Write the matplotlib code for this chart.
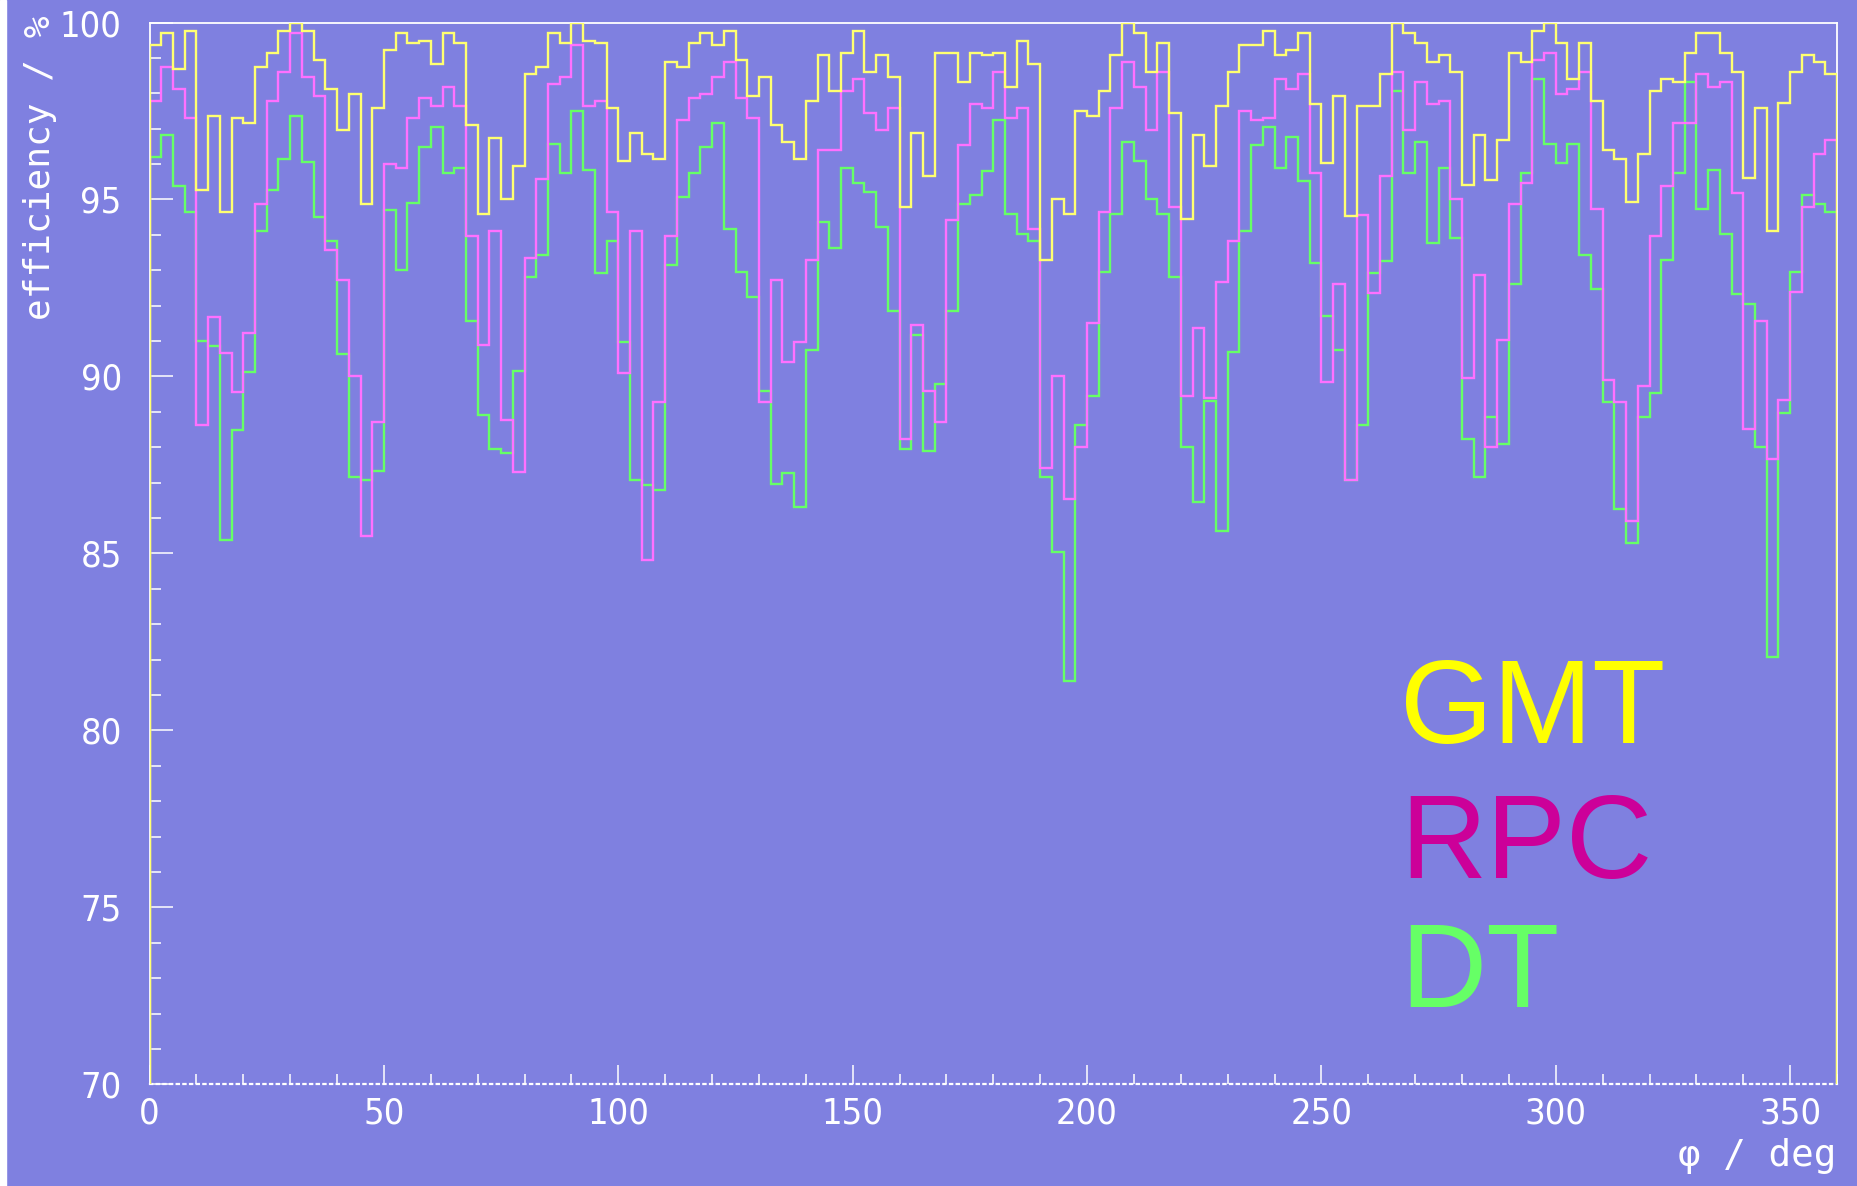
import numpy as np
import matplotlib
matplotlib.use("Agg")
import matplotlib.pyplot as plt
from matplotlib.patches import Rectangle
from matplotlib.ticker import MultipleLocator

# ---- data (efficiency in %, 2.5 deg bins from 0 to 360 deg) ----
gmt = [99.36, 99.70, 98.68, 99.76, 95.26, 97.37, 94.65, 97.31, 97.17, 98.74,
       99.14, 99.76, 100.0, 99.76, 98.94, 98.13, 96.96, 97.99, 94.87, 97.58,
       99.23, 99.70, 99.43, 99.49, 98.82, 99.70, 99.43, 97.11, 94.58, 96.75,
       95.00, 95.94, 98.54, 98.74, 99.70, 99.43, 100.0, 99.49, 99.43, 97.58,
       96.08, 96.89, 96.28, 96.14, 98.88, 98.74, 99.43, 99.70, 99.36, 99.76,
       98.94, 97.92, 98.47, 97.10, 96.63, 96.14, 97.78, 99.08, 98.06, 99.15,
       99.76, 98.61, 99.08, 98.47, 94.78, 96.89, 95.67, 99.15, 99.15, 98.33,
       99.15, 99.08, 99.15, 98.19, 99.49, 98.82, 93.28, 95.00, 94.58, 97.51,
       97.37, 98.06, 99.08, 100.0, 99.70, 98.61, 99.43, 97.45, 94.45, 96.82,
       95.94, 97.65, 98.61, 99.36, 99.36, 99.76, 99.08, 99.23, 99.70, 97.71,
       96.02, 97.92, 94.52, 97.65, 97.65, 98.54, 100.0, 99.70, 99.43, 98.88,
       99.08, 98.61, 95.40, 96.82, 95.54, 96.69, 99.15, 98.88, 99.76, 100.0,
       99.43, 98.41, 99.43, 97.78, 96.41, 96.14, 94.92, 96.28, 98.06, 98.41,
       98.33, 99.15, 99.70, 99.70, 99.15, 98.61, 95.60, 97.58, 94.11, 97.72,
       98.61, 99.08, 98.88, 98.54]

rpc = [97.78, 98.74, 98.13, 97.31, 88.64, 91.69, 90.67, 89.57, 91.22, 94.87,
       97.78, 98.61, 99.70, 98.47, 97.92, 93.56, 92.73, 90.01, 85.50, 88.70,
       96.00, 95.88, 97.31, 97.86, 97.65, 98.19, 97.65, 93.97, 90.90, 94.10,
       88.78, 87.29, 93.35, 95.59, 98.27, 98.47, 99.36, 97.65, 97.78, 94.65,
       90.09, 94.10, 84.82, 89.27, 93.96, 97.25, 97.86, 97.99, 98.47, 98.88,
       97.86, 97.31, 89.27, 92.73, 90.41, 90.97, 93.28, 96.41, 96.41, 98.06,
       98.41, 97.45, 96.96, 97.58, 88.23, 91.44, 89.59, 88.70, 94.43, 96.55,
       97.71, 97.58, 98.61, 97.30, 97.58, 94.17, 87.42, 90.00, 86.53, 88.02,
       91.51, 94.65, 97.58, 98.88, 98.19, 96.96, 98.61, 94.78, 89.45, 91.38,
       89.38, 92.67, 93.84, 97.51, 97.24, 97.31, 98.41, 98.13, 98.54, 95.74,
       89.83, 92.60, 87.07, 94.56, 92.37, 95.67, 98.61, 96.96, 98.33, 97.71,
       97.78, 95.00, 89.95, 92.88, 88.02, 91.03, 94.86, 95.47, 98.95, 99.15,
       97.99, 98.13, 98.61, 94.72, 89.89, 89.27, 85.92, 89.74, 93.96, 95.39,
       97.17, 97.17, 98.54, 98.19, 98.33, 95.19, 88.52, 91.58, 87.68, 89.33,
       92.39, 94.78, 96.29, 96.69]

dt = [96.21, 96.82, 95.39, 94.65, 91.01, 90.86, 85.38, 88.49, 90.12, 94.11,
      95.26, 96.14, 97.37, 96.07, 94.51, 93.82, 90.62, 87.15, 87.07, 87.34,
      94.71, 93.02, 94.91, 96.48, 97.04, 95.74, 95.88, 91.57, 88.92, 87.95,
      87.83, 90.14, 92.80, 93.42, 96.56, 95.74, 97.51, 95.82, 92.93, 93.84,
      90.96, 87.07, 86.94, 86.80, 93.14, 95.06, 95.74, 96.49, 97.17, 94.17,
      92.94, 92.25, 89.59, 86.95, 87.27, 86.31, 90.76, 94.37, 93.62, 95.88,
      95.47, 95.21, 94.23, 91.86, 87.96, 91.16, 87.90, 89.79, 91.86, 94.86,
      95.13, 95.80, 97.24, 94.58, 94.03, 93.84, 87.15, 85.03, 81.40, 88.64,
      89.46, 92.94, 94.58, 96.63, 96.08, 95.00, 94.58, 92.80, 88.02, 86.46,
      89.30, 85.63, 90.70, 94.11, 96.55, 97.04, 95.88, 96.76, 95.53, 93.21,
      91.72, 90.76, 87.07, 88.62, 92.91, 93.26, 98.06, 95.74, 96.63, 93.76,
      95.88, 93.90, 88.23, 87.15, 88.85, 88.09, 92.60, 95.74, 98.41, 96.56,
      96.02, 96.56, 93.42, 92.47, 89.27, 86.25, 85.29, 88.85, 89.54, 93.28,
      95.74, 98.33, 94.72, 95.82, 94.03, 92.33, 92.05, 88.02, 82.08, 88.98,
      92.94, 95.13, 94.86, 94.65]

phi_range = [0, 360]
eff_range = [70, 100]
x_ticks = [0, 50, 100, 150, 200, 250, 300, 350]
y_ticks = [70, 75, 80, 85, 90, 95, 100]
legend_labels = ["GMT", "RPC", "DT"]

# ---- style ----
BG = "#7f80e0"
C_GMT_LINE, C_RPC_LINE, C_DT_LINE = "#ffff70", "#ff70ff", "#66ff66"
C_GMT_TXT, C_RPC_TXT, C_DT_TXT = "#ffff00", "#cc0099", "#66ff66"
W, H = 1858, 1186

fig = plt.figure(figsize=(W / 100, H / 100), dpi=100, facecolor=BG)
fig.patches.append(Rectangle((0, 0), 6 / W, 1, transform=fig.transFigure,
                             color="white", zorder=0))

ax = fig.add_axes([149.6 / W, 101.7 / H, (1837 - 149.6) / W, (1084.3 - 22.5) / H])
ax.set_facecolor(BG)

edges = np.linspace(phi_range[0], phi_range[1], len(gmt) + 1)
lw = 1.7
ax.stairs(dt, edges, baseline=eff_range[0], color=C_DT_LINE, lw=lw, zorder=3)
ax.stairs(rpc, edges, baseline=eff_range[0], color=C_RPC_LINE, lw=lw, zorder=4)
ax.stairs(gmt, edges, baseline=eff_range[0], color=C_GMT_LINE, lw=lw, zorder=5)

ax.set_xlim(*phi_range)
ax.set_ylim(*eff_range)

for s in ["top", "right", "left", "bottom"]:
    ax.spines[s].set_color("white")
    ax.spines[s].set_linewidth(1.3)
ax.spines["bottom"].set_linestyle((0, (1, 2)))
ax.spines["bottom"].set_linewidth(1.6)

ax.xaxis.set_major_locator(MultipleLocator(50))
ax.xaxis.set_minor_locator(MultipleLocator(10))
ax.yaxis.set_major_locator(MultipleLocator(5))
ax.yaxis.set_minor_locator(MultipleLocator(1))
ax.set_xticks(x_ticks)
ax.set_yticks(y_ticks)

tick_font = dict(family="DejaVu Sans", size=26, stretch="condensed", weight="light")
ax.set_xticklabels([str(v) for v in x_ticks], fontdict=tick_font)
ax.set_yticklabels([str(v) for v in y_ticks], fontdict=tick_font)

ax.tick_params(axis="y", which="major", direction="in", length=16.5, width=1.1,
               color="white", labelcolor="white", pad=20)
ax.tick_params(axis="y", which="minor", direction="in", length=8, width=1.1,
               color="white")
ax.tick_params(axis="x", which="major", direction="in", length=14, width=1.1,
               color="white", labelcolor="white", pad=9)
ax.tick_params(axis="x", which="minor", direction="in", length=7, width=1.1,
               color="white")

label_font = {"fontsize": 26, "family": "DejaVu Sans Mono"}
fig.text(40 / W, 1 - 16 / H, "efficiency / %", rotation=90, ha="center", va="top",
         color="white", **label_font)
fig.text(1836 / W, 1 - 1156 / H, "\u03c6 / deg", ha="right", va="center",
         color="white", **{"fontsize": 27, "family": "DejaVu Sans Mono"})

leg_colors = [C_GMT_TXT, C_RPC_TXT, C_DT_TXT]
leg_base = [743, 878, 1007]
for lab, col, yb in zip(legend_labels, leg_colors, leg_base):
    fig.text(1400 / W, 1 - yb / H, lab, color=col, fontsize=86,
             family="Liberation Sans", va="baseline", ha="left")

fig.savefig("out.png", dpi=100, facecolor=BG)
